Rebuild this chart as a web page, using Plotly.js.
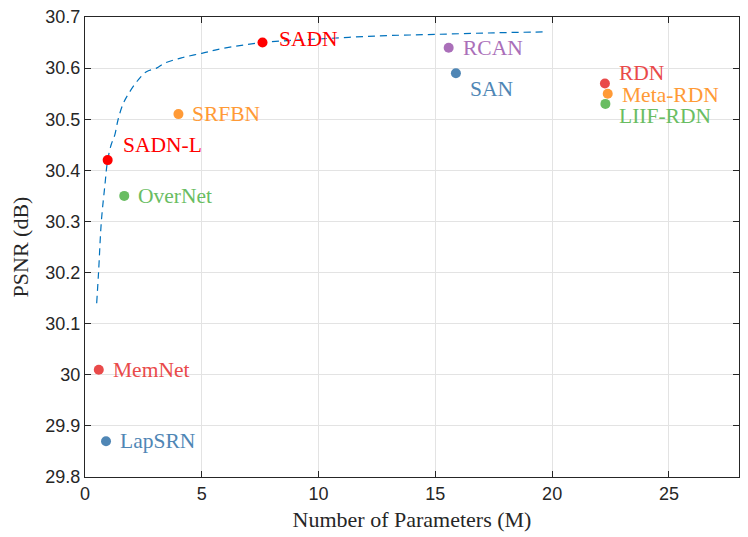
<!DOCTYPE html>
<html>
<head>
<meta charset="utf-8">
<script src="https://cdn.plot.ly/plotly-3.0.1.min.js"></script>
<style>
  html, body { margin: 0; padding: 0; background: #fff; }
  #chart { width: 748px; height: 537px; }
</style>
</head>
<body>
<div id="chart"></div>
<script>
// Methods: parameters (M) and PSNR (dB)
const methods = ['SADN', 'SADN-L', 'SRFBN', 'OverNet', 'MemNet', 'LapSRN',
                 'RCAN', 'SAN', 'RDN', 'Meta-RDN', 'LIIF-RDN'];
const params  = [7.6, 0.97, 4.0, 1.68, 0.59, 0.9, 15.57, 15.88, 22.26, 22.38, 22.28];
const psnr    = [30.65, 30.42, 30.51, 30.35, 30.01, 29.87, 30.64, 30.59, 30.57, 30.55, 30.53];

// Dashed trend curve
const curveX = [0.5, 0.58, 0.7, 0.85, 0.97, 1.12, 1.28, 1.42, 1.64, 1.92, 2.28, 2.63, 3.06, 3.42,
                4.13, 5.0, 5.85, 7.6, 10, 12.6, 15, 17.5, 19.8];
const curveY = [30.14, 30.2, 30.3, 30.37, 30.42, 30.45, 30.47, 30.5, 30.531, 30.554, 30.577, 30.593,
                30.6, 30.61, 30.62, 30.629, 30.638, 30.65, 30.657, 30.663, 30.666, 30.669, 30.671];

// Axis ticks
const xTicks = [0, 5, 10, 15, 20, 25];
const yTicks = [29.8, 29.9, 30, 30.1, 30.2, 30.3, 30.4, 30.5, 30.6, 30.7];
const yTickText = ['29.8', '29.9', '30', '30.1', '30.2', '30.3', '30.4', '30.5', '30.6', '30.7'];

// Styling per method
const colors = {
    'SADN': '#ff0000', 'SADN-L': '#ff0000',
    'MemNet': '#e94a4a', 'RDN': '#e94a4a',
    'SRFBN': '#ff9a36', 'Meta-RDN': '#ff9a36',
    'OverNet': '#69bd62', 'LIIF-RDN': '#69bd62',
    'LapSRN': '#4f86b5', 'SAN': '#4f86b5',
    'RCAN': '#aa6fb9'
};
// label offset from marker centre, pixels [dx, dy(down)]
const labelShift = {
    'SADN': [14, -4], 'SADN-L': [13, -15], 'SRFBN': [12, 0], 'OverNet': [12, 0],
    'MemNet': [12, 0], 'LapSRN': [12, 0], 'RCAN': [12, 0], 'SAN': [12, 16],
    'RDN': [12, -10], 'Meta-RDN': [12, 1], 'LIIF-RDN': [12, 12]
};

const curve = {
    x: curveX,
    y: curveY,
    type: 'scatter',
    mode: 'lines',
    line: { color: '#0072BD', width: 1.2, dash: '7px,5px', shape: 'spline', smoothing: 1 },
    hoverinfo: 'skip'
};

const points = {
    x: params,
    y: psnr,
    text: methods,
    type: 'scatter',
    mode: 'markers',
    marker: { size: 10, color: methods.map(m => colors[m]), line: { width: 0 } },
    hovertemplate: '<b>%{text}</b><br>%{x} M, %{y} dB<extra></extra>'
};

const annotations = methods.map((m, i) => ({
    x: params[i],
    y: psnr[i],
    xref: 'x',
    yref: 'y',
    text: m,
    showarrow: false,
    xanchor: 'left',
    yanchor: 'middle',
    xshift: labelShift[m][0],
    yshift: -labelShift[m][1],
    font: { family: 'Liberation Serif, Times New Roman, serif', size: 21.5, color: colors[m] }
}));

const axisCommon = {
    showline: true,
    linecolor: '#262626',
    linewidth: 1.2,
    mirror: 'ticks',
    ticks: 'inside',
    ticklen: 6,
    tickcolor: '#262626',
    tickwidth: 1,
    showgrid: true,
    gridcolor: '#e3e3e3',
    gridwidth: 1,
    zeroline: false,
    tickfont: { family: 'Liberation Sans, Arial, sans-serif', size: 18, color: '#262626' }
};

const layout = {
    width: 748,
    height: 537,
    paper_bgcolor: '#ffffff',
    plot_bgcolor: '#ffffff',
    showlegend: false,
    margin: { t: 17, b: 60, l: 85, r: 9 },
    xaxis: {
        ...axisCommon,
        range: [0, 28],
        tickvals: xTicks,
        title: { text: 'Number of Parameters (M)', standoff: 8,
                 font: { family: 'Liberation Serif, Times New Roman, serif', size: 22, color: '#262626' } }
    },
    yaxis: {
        ...axisCommon,
        range: [29.8, 30.7],
        tickvals: yTicks,
        ticktext: yTickText,
        title: { text: 'PSNR (dB)', standoff: 10,
                 font: { family: 'Liberation Serif, Times New Roman, serif', size: 22, color: '#262626' } }
    },
    annotations: annotations
};

Plotly.newPlot('chart', [curve, points], layout, { displayModeBar: false, responsive: false });
</script>
</body>
</html>
